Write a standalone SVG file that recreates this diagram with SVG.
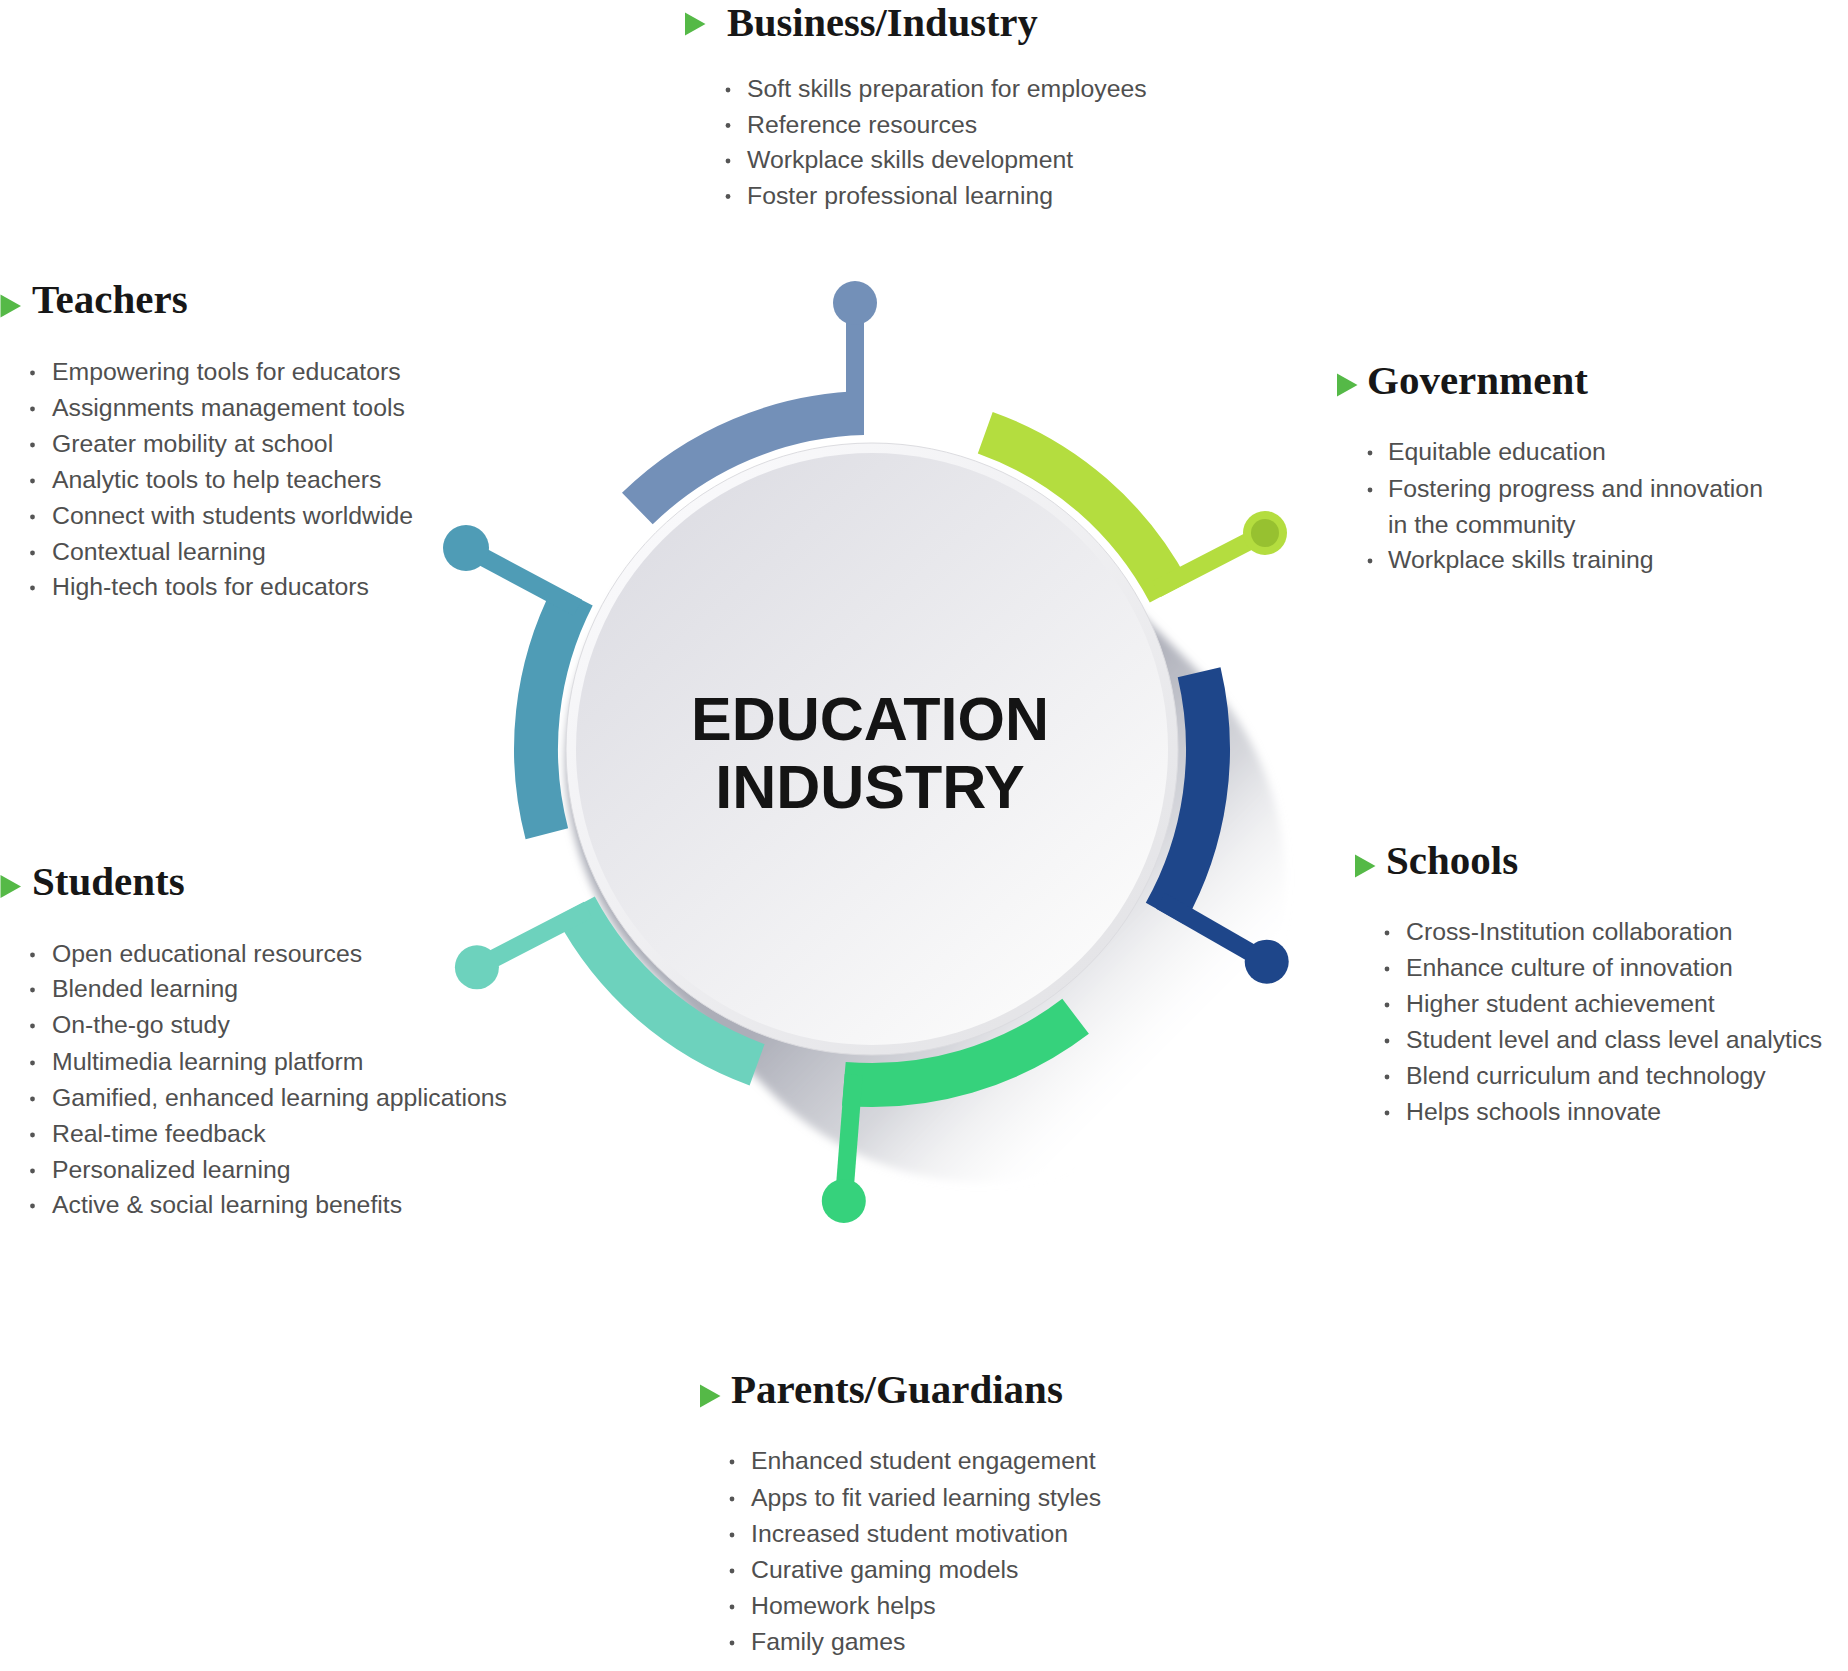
<svg xmlns="http://www.w3.org/2000/svg" width="1848" height="1671" viewBox="0 0 1848 1671">
<defs>
<style>
.h{font-family:"Liberation Serif","Times New Roman",serif;font-weight:bold;font-size:41px;fill:#171717}
.b{font-family:"Liberation Sans",Arial,sans-serif;font-size:24.8px;fill:#4f4f4f}
.c{font-family:"Liberation Sans",Arial,sans-serif;font-weight:bold;font-size:61px;fill:#141414;text-anchor:middle}
.dot{fill:#555555}
.tri{fill:#55b947}
.stem{fill:none;stroke-width:18;stroke-linecap:butt}
</style>
<path id="tri" d="M0,-11.5 L20.5,0 L0,11.5 Z"/>
<linearGradient id="shadowGrad" gradientUnits="userSpaceOnUse" x1="947" y1="844" x2="1173" y2="1070">
<stop offset="0" stop-color="#a4a6b1" stop-opacity="0.9"/>
<stop offset="0.45" stop-color="#b4b6bf" stop-opacity="0.55"/>
<stop offset="1" stop-color="#ffffff" stop-opacity="0"/>
</linearGradient>
<linearGradient id="ringGrad" x1="0.15" y1="0.1" x2="0.85" y2="0.9">
<stop offset="0" stop-color="#f9f9fb"/>
<stop offset="1" stop-color="#e4e4e7"/>
</linearGradient>
<linearGradient id="diskGrad" x1="0.15" y1="0.1" x2="0.85" y2="0.9">
<stop offset="0" stop-color="#dedee4"/>
<stop offset="1" stop-color="#fbfbfb"/>
</linearGradient>
<filter id="soft" x="-20%" y="-20%" width="140%" height="140%">
<feGaussianBlur stdDeviation="4"/>
</filter>
</defs>
<rect width="1848" height="1671" fill="#ffffff"/>

<!-- long shadow -->
<path id="shadow" d="M1074.1,546.9 L1201.4,674.2 A300,300 0 0 1 777.2,1098.4 L649.9,971.1 A300,300 0 0 1 1074.1,546.9 Z" fill="url(#shadowGrad)" filter="url(#soft)"/>

<!-- segments (arc bands) -->
<g id="segments">
<path id="seg-business" fill="#7390b8" d="M622.0,492.8 A358,358 0 0 1 864,391.1 L864,435.1 A314,314 0 0 0 652.7,524.3 Z"/>
<path id="seg-government" fill="#b4dd3f" d="M992.7,411.9 A358,358 0 0 1 1188.7,582.0 L1149.8,602.6 A314,314 0 0 0 977.8,453.4 Z"/>
<path id="seg-schools" fill="#1e468a" d="M1220.5,667.2 A358,358 0 0 1 1184.2,924.2 L1145.8,902.7 A314,314 0 0 0 1177.7,677.3 Z"/>
<path id="seg-parents" fill="#36d27c" d="M1088.9,1033.8 A358,358 0 0 1 842.0,1105.7 L845.7,1061.9 A314,314 0 0 0 1062.3,998.8 Z"/>
<path id="seg-students" fill="#6dd2bd" d="M749.6,1085.4 A358,358 0 0 1 555.9,917.1 L594.8,896.4 A314,314 0 0 0 764.6,1044.1 Z"/>
<path id="seg-teachers" fill="#4f9cb6" d="M525.6,839.3 A358,358 0 0 1 553.6,585.4 L592.7,605.5 A314,314 0 0 0 568.1,828.2 Z"/>
</g>

<!-- connectors: stems and end dots -->
<g id="connectors">
<line class="stem" stroke="#7390b8" x1="855" y1="412" x2="855" y2="303"/>
<circle cx="855" cy="303" r="22" fill="#7390b8"/>
<line class="stem" stroke="#b4dd3f" x1="1156.5" y1="589.1" x2="1265" y2="533"/>
<circle cx="1265" cy="533" r="22" fill="#b4dd3f"/>
<circle cx="1265" cy="533" r="14" fill="#97c130"/>
<line class="stem" stroke="#1e468a" x1="1160.7" y1="900.9" x2="1266.7" y2="961.7"/>
<circle cx="1266.7" cy="961.7" r="22" fill="#1e468a"/>
<line class="stem" stroke="#36d27c" x1="853.7" y1="1074.7" x2="843.8" y2="1201"/>
<circle cx="843.8" cy="1201" r="22" fill="#36d27c"/>
<line class="stem" stroke="#6dd2bd" x1="588.2" y1="909.8" x2="476.9" y2="967.3"/>
<circle cx="476.9" cy="967.3" r="22" fill="#6dd2bd"/>
<line class="stem" stroke="#4f9cb6" x1="577.9" y1="607.8" x2="466" y2="548"/>
<circle cx="466" cy="548" r="23" fill="#4f9cb6"/>
</g>

<!-- center node -->
<g id="center">
<circle cx="872" cy="749" r="306" fill="url(#ringGrad)" stroke="#dcdce0" stroke-width="1"/>
<circle cx="872" cy="749" r="296" fill="url(#diskGrad)"/>
<text class="c" x="870" y="740">EDUCATION</text>
<text class="c" x="870" y="808">INDUSTRY</text>
</g>

<!-- Business/Industry -->
<g id="node-business">
<use href="#tri" class="tri" x="685" y="24"/>
<text class="h" x="727" y="36" style="font-size:40.5px">Business/Industry</text>
<circle class="dot" cx="728" cy="90" r="2.4"/>
<text class="b" x="747" y="97">Soft skills preparation for employees</text>
<circle class="dot" cx="728" cy="125.5" r="2.4"/>
<text class="b" x="747" y="132.5">Reference resources</text>
<circle class="dot" cx="728" cy="161" r="2.4"/>
<text class="b" x="747" y="168">Workplace skills development</text>
<circle class="dot" cx="728" cy="196.5" r="2.4"/>
<text class="b" x="747" y="203.5">Foster professional learning</text>
</g>

<!-- Teachers -->
<g id="node-teachers">
<use href="#tri" class="tri" x="0.5" y="306"/>
<text class="h" x="32" y="313">Teachers</text>
<circle class="dot" cx="32.5" cy="373" r="2.4"/>
<text class="b" x="52" y="380">Empowering tools for educators</text>
<circle class="dot" cx="32.5" cy="409" r="2.4"/>
<text class="b" x="52" y="416">Assignments management tools</text>
<circle class="dot" cx="32.5" cy="445" r="2.4"/>
<text class="b" x="52" y="452">Greater mobility at school</text>
<circle class="dot" cx="32.5" cy="481" r="2.4"/>
<text class="b" x="52" y="488">Analytic tools to help teachers</text>
<circle class="dot" cx="32.5" cy="517" r="2.4"/>
<text class="b" x="52" y="524">Connect with students worldwide</text>
<circle class="dot" cx="32.5" cy="553" r="2.4"/>
<text class="b" x="52" y="560">Contextual learning</text>
<circle class="dot" cx="32.5" cy="588" r="2.4"/>
<text class="b" x="52" y="595">High-tech tools for educators</text>
</g>

<!-- Government -->
<g id="node-government">
<use href="#tri" class="tri" x="1337" y="385"/>
<text class="h" x="1367" y="394">Government</text>
<circle class="dot" cx="1370" cy="453" r="2.4"/>
<text class="b" x="1388" y="460">Equitable education</text>
<circle class="dot" cx="1370" cy="490" r="2.4"/>
<text class="b" x="1388" y="497">Fostering progress and innovation</text>
<text class="b" x="1388" y="533">in the community</text>
<circle class="dot" cx="1370" cy="561" r="2.4"/>
<text class="b" x="1388" y="568">Workplace skills training</text>
</g>

<!-- Students -->
<g id="node-students">
<use href="#tri" class="tri" x="0.5" y="886.5"/>
<text class="h" x="32" y="895">Students</text>
<circle class="dot" cx="32.5" cy="955" r="2.4"/>
<text class="b" x="52" y="962">Open educational resources</text>
<circle class="dot" cx="32.5" cy="990" r="2.4"/>
<text class="b" x="52" y="997">Blended learning</text>
<circle class="dot" cx="32.5" cy="1026" r="2.4"/>
<text class="b" x="52" y="1033">On-the-go study</text>
<circle class="dot" cx="32.5" cy="1063" r="2.4"/>
<text class="b" x="52" y="1070">Multimedia learning platform</text>
<circle class="dot" cx="32.5" cy="1099" r="2.4"/>
<text class="b" x="52" y="1106">Gamified, enhanced learning applications</text>
<circle class="dot" cx="32.5" cy="1135" r="2.4"/>
<text class="b" x="52" y="1142">Real-time feedback</text>
<circle class="dot" cx="32.5" cy="1171" r="2.4"/>
<text class="b" x="52" y="1178">Personalized learning</text>
<circle class="dot" cx="32.5" cy="1206" r="2.4"/>
<text class="b" x="52" y="1213">Active &amp; social learning benefits</text>
</g>

<!-- Schools -->
<g id="node-schools">
<use href="#tri" class="tri" x="1355" y="866"/>
<text class="h" x="1386" y="874">Schools</text>
<circle class="dot" cx="1387" cy="933" r="2.4"/>
<text class="b" x="1406" y="940">Cross-Institution collaboration</text>
<circle class="dot" cx="1387" cy="969" r="2.4"/>
<text class="b" x="1406" y="976">Enhance culture of innovation</text>
<circle class="dot" cx="1387" cy="1005" r="2.4"/>
<text class="b" x="1406" y="1012">Higher student achievement</text>
<circle class="dot" cx="1387" cy="1041" r="2.4"/>
<text class="b" x="1406" y="1048">Student level and class level analytics</text>
<circle class="dot" cx="1387" cy="1077" r="2.4"/>
<text class="b" x="1406" y="1084">Blend curriculum and technology</text>
<circle class="dot" cx="1387" cy="1113" r="2.4"/>
<text class="b" x="1406" y="1120">Helps schools innovate</text>
</g>

<!-- Parents/Guardians -->
<g id="node-parents">
<use href="#tri" class="tri" x="700" y="1396"/>
<text class="h" x="731" y="1403">Parents/Guardians</text>
<circle class="dot" cx="732" cy="1462" r="2.4"/>
<text class="b" x="751" y="1469">Enhanced student engagement</text>
<circle class="dot" cx="732" cy="1499" r="2.4"/>
<text class="b" x="751" y="1506">Apps to fit varied learning styles</text>
<circle class="dot" cx="732" cy="1535" r="2.4"/>
<text class="b" x="751" y="1542">Increased student motivation</text>
<circle class="dot" cx="732" cy="1571" r="2.4"/>
<text class="b" x="751" y="1578">Curative gaming models</text>
<circle class="dot" cx="732" cy="1607" r="2.4"/>
<text class="b" x="751" y="1614">Homework helps</text>
<circle class="dot" cx="732" cy="1643" r="2.4"/>
<text class="b" x="751" y="1650">Family games</text>
</g>
</svg>
